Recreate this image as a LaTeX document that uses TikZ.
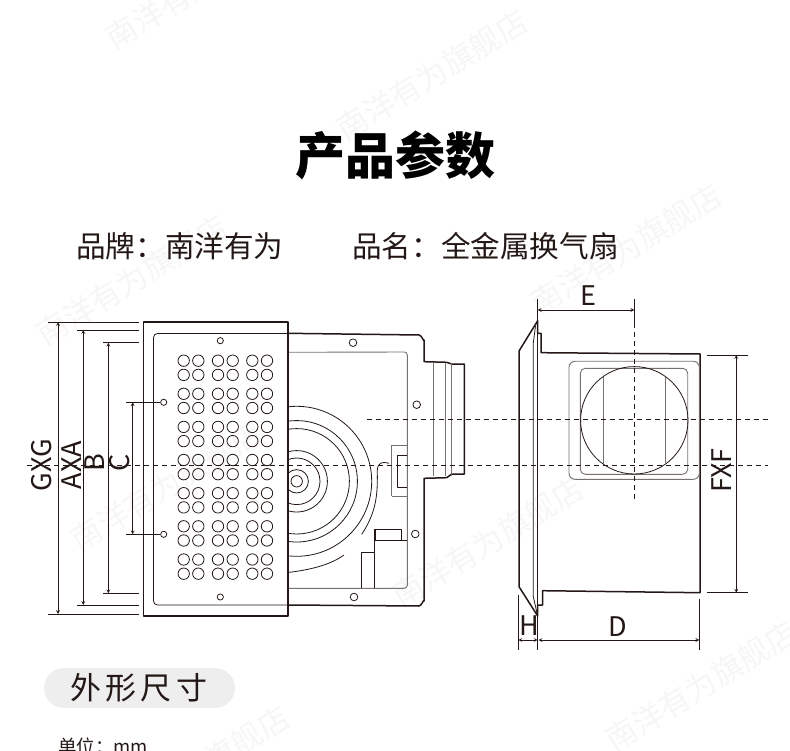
\documentclass[tikz,border=0pt]{standalone}
\usepackage{fontspec}
\setmainfont{Noto Sans CJK SC}
\definecolor{inkc}{HTML}{231815}
\definecolor{greyc}{HTML}{77716E}
\newcommand{\wcolon}{\char"FF1A\relax}
\tikzset{
	outl/.style={draw=inkc, line width=1.5pt},
	thinl/.style={draw=inkc, line width=0.8pt},
	greyl/.style={draw=greyc, line width=0.9pt},
	extl/.style={draw=inkc, line width=0.7pt},
	diml/.style={draw=inkc, line width=0.7pt, <->},
	cenl/.style={draw=inkc, line width=0.8pt, dash pattern=on 5pt off 4pt},
	dimt/.style={text=inkc, font=\fontsize{27}{27}\selectfont, inner sep=0pt},
	wmark/.style={text=black!3.5, font=\fontsize{31}{31}\selectfont, rotate=31.5, inner sep=0pt},
}
\begin{document}
\begin{tikzpicture}[x=1pt, y=-1pt, line join=round, line cap=butt, >=stealth]
	\useasboundingbox (0,0) rectangle (790,751);
	% watermarks
	\begin{scope}
		\clip (0,0) rectangle (790,751);
		\foreach \wx/\wy [count=\wi] in {201/-16, 432/75, 626/249, 132/280, 166/486, 488/542, 701/686, 194/771}
			\node[wmark] (wm\wi) at (\wx,\wy) {南洋有为旗舰店};
	\end{scope}
	% headings
	\node[font=\fontsize{50}{50}\selectfont\bfseries, inner sep=0pt] (title) at (395,155) {产品参数};
	\node[font=\fontsize{29.6}{30}\selectfont, inner sep=0pt, anchor=west, text=inkc] (brand) at (76,246) {品牌\wcolon 南洋有为};
	\node[font=\fontsize{29.6}{30}\selectfont, inner sep=0pt, anchor=west, text=inkc] (pname) at (352,246) {品名\wcolon 全金属换气扇};
	\node[fill=black!6.5, rounded corners=20pt, minimum width=191pt, minimum height=40pt, inner sep=0pt] (pill) at (139.5,688) {};
	\node[font=\fontsize{31}{31}\selectfont\addfontfeature{LetterSpace=14}, inner sep=0pt, text=inkc, anchor=west] (shape) at (70,688) {外形尺寸};
	\node[font=\fontsize{18.5}{19}\selectfont, inner sep=0pt, anchor=west, text=inkc] (unit) at (58,746) {单位\wcolon mm};
	% housing behind the plate
	\draw[outl] (287.5,333.3) -- (419,335) to[out=0,in=-90] (424,340) -- (424,361.7) -- (446.7,362.3) -- (451.7,364) -- (464.3,364)
		-- (464.3,474) -- (451.7,474) -- (446.7,477.7) -- (424,478.3) -- (424,601) to[out=90,in=0] (419,606) -- (287.5,605);
	\foreach \nx in {433.3,445.7,451.7}
		\draw[greyl] (\nx,363) -- (\nx,476);
	\draw[greyl, rounded corners=3pt] (287.5,352.3) -- (407.3,352) -- (407.3,588.3) -- (287.5,588.3);
	\foreach \hx/\hy in {353/342.7, 416.7/404.7, 415.3/534, 354/597}
		\draw[thinl] (\hx,\hy) circle (3.8);
	\begin{scope}
		\clip (287.5,330) rectangle (420,610);
		\foreach \rd in {5.7,11.7,23.3,30.7,52.7,60.7,75}
			\draw[thinl] (296.7,481.3) circle (\rd);
	\end{scope}
	\draw[thinl] (389,463.3) .. controls (383,461.5) and (378,462) .. (377.3,470) .. controls (377.5,490) and (378,510) .. (361.7,534.3);
	\draw[thinl] (287.5,572.5) .. controls (310,570) and (330,565) .. (344,555);
	\draw[greyl] (391.7,496) -- (391.7,445.3) -- (407.3,445.3);
	\draw[greyl] (391.7,496) -- (407.3,496);
	\draw[thinl] (407.3,455) -- (397.3,455) -- (397.3,487.7) -- (407.3,487.7);
	\draw[thinl] (375,540) -- (375,529) -- (401.3,529) -- (401.3,540);
	\draw[thinl] (375,540) -- (407.3,540);
	\draw[thinl] (374.5,529) -- (374.5,588.3);
	\draw[thinl] (374.5,552.7) -- (361.7,552.7) -- (361.7,588.3);
	% plate with holes
	\draw[outl, line width=1.8pt] (143.5,322) rectangle (287.7,616);
	\draw[thinl, rounded corners=4pt] (287.7,333.5) -- (153.5,333.5) -- (153.5,605) -- (287.7,605);
	\foreach \py in {360.7,393.8,426.9,460,493.2,526.3,559.5}
		\foreach \px in {183.7,198.3,218,232.7,252.3,267} {
			\draw[thinl] (\px,\py) circle (5.7);
			\draw[thinl] (\px,\py+14.2) circle (5.7);
		}
	\foreach \hx/\hy in {220.3/340.7, 220.3/597, 163.7/402.3, 163.7/534.3}
		\draw[thinl] (\hx,\hy) circle (3.1);
	% side view
	\draw[outl] (537.7,320.7) -- (519,351) -- (519,586.7) -- (537.7,616) -- (537.7,605) -- (542.7,605) -- (542.7,590.7) -- (700,592.7)
		-- (700,354) -- (541,352.7) -- (541,333.3) -- (537.7,333.3) -- cycle;
	\draw[thinl] (535.5,326) -- (533.3,343) -- (533.3,596.7) -- (537.2,614);
	\draw[thinl] (537.7,333.3) -- (537.7,605);
	\draw[greyl, rounded corners=6pt] (569,361.3) rectangle (699.3,479.3);
	\draw[greyl, rounded corners=5pt] (580.3,368.3) rectangle (687.7,474.3);
	\draw[thinl] (634.3,420.3) circle (53.7);
	\foreach \vx in {603.3,665}
		\draw[greyl] (\vx,376.5) -- (\vx,464);
	% centre lines
	\coordinate (cla) at (27,465.7);
	\coordinate (clb) at (768,465.7);
	\coordinate (clc) at (366.7,419);
	\coordinate (cld) at (768,419);
	\coordinate (cle) at (634.3,323);
	\coordinate (clf) at (634.3,500);
	\draw[cenl] (cla) -- (clb);
	\draw[cenl] (clc) -- (cld);
	\draw[cenl] (cle) -- (clf);
	% left dimensions
	\foreach \na/\xa/\xb/\xe/\ya/\yb in {g/58/48.3/139/322/614, a/83.3/77/139/330/605, b/108.3/102.7/139/342.7/593.3, c/132.7/126/160/402.3/534.3} {
		\coordinate (\na t) at (\xa,\ya);
		\coordinate (\na b) at (\xa,\yb);
		\draw[extl] (\xb,\ya) -- (\xe,\ya);
		\draw[extl] (\xb,\yb) -- (\xe,\yb);
		\draw[diml] (\na t) -- (\na b);
	}
	\node[dimt, rotate=90] (lgxg) at (41.5,465) {GXG};
	\node[dimt, rotate=90] (laxa) at (72,465) {AXA};
	\node[dimt, rotate=90] (lb) at (95,463) {B};
	\node[dimt, rotate=90] (lc) at (120,463) {C};
	% right dimensions
	\coordinate (et) at (537.7,299);
	\coordinate (ee) at (537.7,310);
	\coordinate (ef) at (634.3,310);
	\coordinate (eu) at (634.3,299);
	\draw[extl] (et) -- (537.7,320);
	\draw[extl] (eu) -- (634.3,323);
	\draw[diml] (ee) -- (ef);
	\node[dimt] (le) at (588.5,296) {E};
	\coordinate (fa) at (736.3,355);
	\coordinate (fb) at (736.3,592.7);
	\draw[extl] (707.3,355) -- (747.7,355);
	\draw[extl] (707.3,592.7) -- (747.7,592.7);
	\draw[diml] (fa) -- (fb);
	\node[dimt, rotate=90] (lfxf) at (722,470.5) {FXF};
	\coordinate (ha) at (518.3,640);
	\coordinate (hb) at (537.7,640);
	\coordinate (da) at (538.5,640);
	\coordinate (db) at (699.3,640);
	\draw[extl] (518.3,595) -- (518.3,650);
	\draw[extl] (537.7,616) -- (537.7,650);
	\draw[extl] (699.3,599) -- (699.3,650);
	\draw[diml] (ha) -- (hb);
	\draw[diml] (da) -- (db);
	\node[dimt] (lh) at (529.3,626) {H};
	\node[dimt] (ld) at (617.3,627) {D};
\end{tikzpicture}
\end{document}
